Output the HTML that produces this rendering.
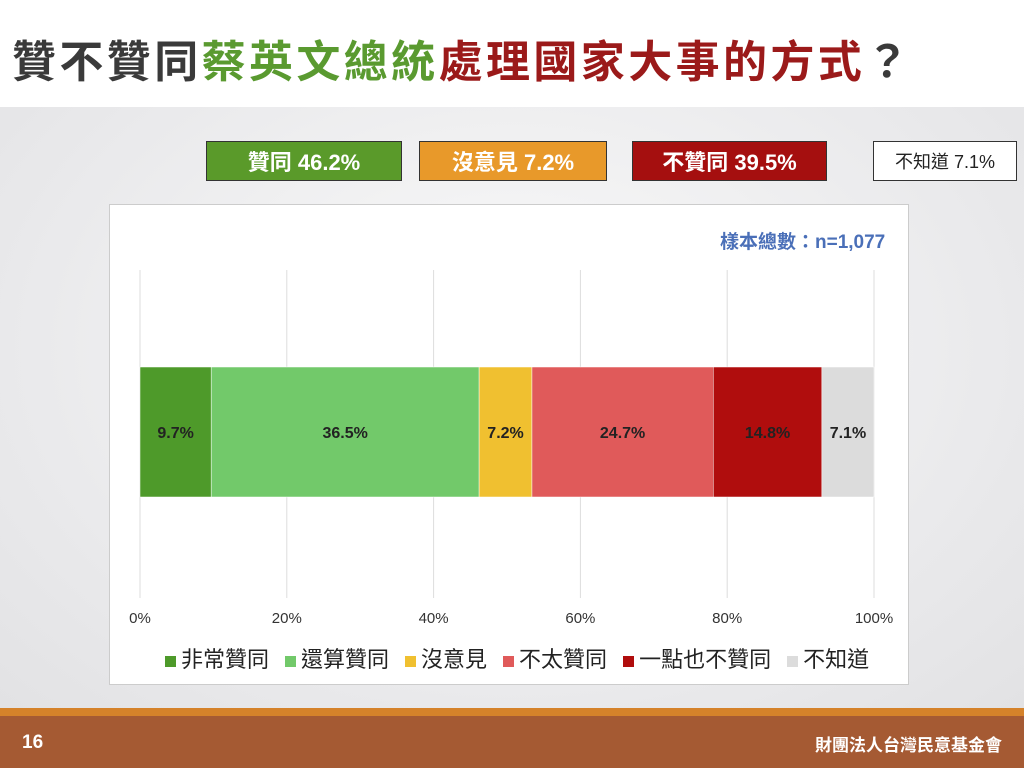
<!DOCTYPE html>
<html><head><meta charset="utf-8"><style>
body{margin:0;width:1024px;height:768px;position:relative;overflow:hidden;font-family:"Liberation Sans","Noto Sans CJK TC",sans-serif;background:#fff}
.abs{position:absolute}
.box{position:absolute;top:141px;height:40px;border:1px solid #333;color:#fff;font-size:22px;font-weight:bold;display:flex;align-items:center;justify-content:center;box-sizing:border-box}
</style></head><body>
<div class="abs" style="left:12px;top:26px;font-size:44px;font-weight:bold;color:#3a3a3a;letter-spacing:3.4px;white-space:nowrap">贊不贊同<span style="color:#5a9a30">蔡英文總統</span><span style="color:#9b1a1a">處理國家大事的方式</span>？</div>
<div class="abs" style="left:0;top:107px;width:1024px;height:602px;background:radial-gradient(ellipse at 50% 40%,#fafafa 0%,#e9e9eb 70%,#e2e2e4 100%)"></div>
<div class="box" style="left:206px;width:196px;background:#5a9a2a">贊同 46.2%</div>
<div class="box" style="left:419px;width:188px;background:#e8992a">沒意見 7.2%</div>
<div class="box" style="left:632px;width:195px;background:#a50f0f">不贊同 39.5%</div>
<div class="box" style="left:873px;width:144px;background:#fff;color:#222;font-weight:normal;font-size:18px">不知道 7.1%</div>
<div class="abs" style="left:109px;top:204px;width:800px;height:481px;background:#fff;border:1px solid #ccc;box-sizing:border-box"></div>
<div class="abs" style="left:720px;top:227px;font-size:19px;color:#4a6fb8;font-weight:bold">樣本總數：n=1,077</div>
<svg class="abs" style="left:0;top:0" width="1024" height="768" id="chart"></svg>
<div class="abs" id="legend" style="left:165px;top:642px;font-size:22px;color:#222;display:flex;gap:16px;white-space:nowrap"></div>
<div class="abs" style="left:0;top:708px;width:1024px;height:8px;background:#d5822a"></div>
<div class="abs" style="left:0;top:716px;width:1024px;height:52px;background:#a55a33"></div>
<div class="abs" style="left:22px;top:732px;color:#fff;font-size:19px;font-weight:bold">16</div>
<div class="abs" style="left:815px;top:731px;color:#fff;font-size:17px;font-weight:bold">財團法人台灣民意基金會</div>
<script>
const categories=["非常贊同","還算贊同","沒意見","不太贊同","一點也不贊同","不知道"];
const values=[9.7,36.5,7.2,24.7,14.8,7.1];
const colors=["#4e9a2a","#72c96a","#f0c030","#e05a5a","#b00d0d","#dcdcdc"];
const ticks=[0,20,40,60,80,100];
const svg=document.getElementById('chart');
const NS="http://www.w3.org/2000/svg";
const x0=140,x1=874,by=367,bh=130;
const X=v=>x0+(x1-x0)*v/100;
ticks.forEach(t=>{
 const l=document.createElementNS(NS,'line');
 l.setAttribute('x1',X(t));l.setAttribute('x2',X(t));l.setAttribute('y1',270);l.setAttribute('y2',598);
 l.setAttribute('stroke','#ddd');
 
 
 svg.appendChild(l);
 const tx=document.createElementNS(NS,'text');
 tx.setAttribute('x',X(t));tx.setAttribute('y',623);tx.setAttribute('text-anchor','middle');
 tx.setAttribute('font-size','15');tx.setAttribute('fill','#333');tx.textContent=t+'%';
 
 
 svg.appendChild(tx);
});
let acc=0;
values.forEach((v,i)=>{
 const r=document.createElementNS(NS,'rect');
 r.setAttribute('x',X(acc));r.setAttribute('y',by);r.setAttribute('width',X(acc+v)-X(acc));r.setAttribute('height',bh);
 r.setAttribute('fill',colors[i]);r.setAttribute('stroke','#fff');r.setAttribute('stroke-width','0.5');
 
 
 svg.appendChild(r);
 const tx=document.createElementNS(NS,'text');
 tx.setAttribute('x',X(acc+v/2));tx.setAttribute('y',by+bh/2+6);tx.setAttribute('text-anchor','middle');
 tx.setAttribute('font-size','16');tx.setAttribute('font-weight','bold');tx.setAttribute('fill','#222');
 tx.textContent=v.toFixed(1)+'%';
 
 
 svg.appendChild(tx);
 acc+=v;
});
const lg=document.getElementById('legend');
categories.forEach((c,i)=>{
 const s=document.createElement('span');
 
 
 s.innerHTML='<span style="display:inline-block;width:11px;height:11px;background:'+colors[i]+';margin-right:5px"></span>'+c;
 lg.appendChild(s);
});
</script>
</body></html>
